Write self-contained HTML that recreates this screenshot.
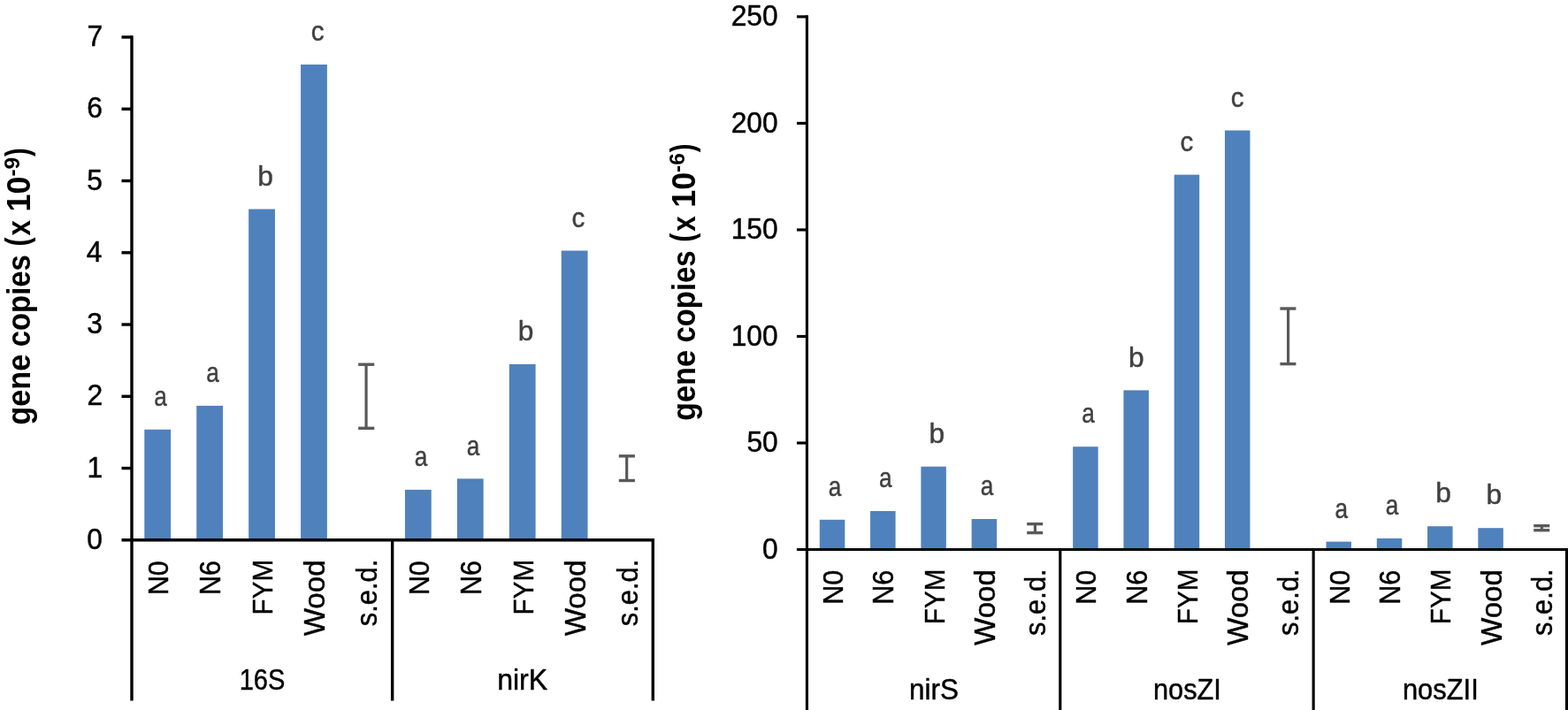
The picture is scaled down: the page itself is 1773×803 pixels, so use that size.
<!DOCTYPE html>
<html lang="en">
<head>
<meta charset="utf-8">
<title>Gene copies charts</title>
<style>
html,body{margin:0;padding:0;background:#fff;}
body{width:1773px;height:803px;overflow:hidden;}
svg{display:block;}
svg text{font-family:"Liberation Sans",sans-serif;white-space:pre;stroke-linejoin:round;}
svg text.r{stroke:#000;stroke-width:0.45px;}
svg text.d{stroke:#404040;stroke-width:0.45px;}
</style>
</head>
<body>
<svg width="1773" height="803" viewBox="0 0 1773 803">
<rect x="0" y="0" width="1773" height="803" fill="#ffffff"/>
<rect x="163.28" y="485.8" width="29.8" height="125" fill="#4f81bd"/>
<rect x="222.21" y="458.9" width="29.8" height="151.9" fill="#4f81bd"/>
<rect x="281.14" y="236.5" width="29.8" height="374.3" fill="#4f81bd"/>
<rect x="340.07" y="73" width="29.8" height="537.8" fill="#4f81bd"/>
<rect x="457.93" y="553.9" width="29.8" height="56.9" fill="#4f81bd"/>
<rect x="516.86" y="541.4" width="29.8" height="69.4" fill="#4f81bd"/>
<rect x="575.79" y="411.9" width="29.8" height="198.9" fill="#4f81bd"/>
<rect x="634.72" y="283.5" width="29.8" height="327.3" fill="#4f81bd"/>
<line x1="414.05" y1="412.2" x2="414.05" y2="484.3" stroke="#595959" stroke-width="3.2"/>
<line x1="405.15" y1="412.2" x2="423.25" y2="412.2" stroke="#595959" stroke-width="3.4"/>
<line x1="405.15" y1="484.3" x2="423.25" y2="484.3" stroke="#595959" stroke-width="3.4"/>
<line x1="708.7" y1="515.8" x2="708.7" y2="543.5" stroke="#595959" stroke-width="3.2"/>
<line x1="699.8" y1="515.8" x2="717.9" y2="515.8" stroke="#595959" stroke-width="3.4"/>
<line x1="699.8" y1="543.5" x2="717.9" y2="543.5" stroke="#595959" stroke-width="3.4"/>
<line x1="149" y1="40.3" x2="149" y2="792.5" stroke="#000000" stroke-width="3.4"/>
<line x1="137.5" y1="610.8" x2="740" y2="610.8" stroke="#000000" stroke-width="3.4"/>
<line x1="137.5" y1="529.54" x2="149" y2="529.54" stroke="#000000" stroke-width="3.4"/>
<line x1="137.5" y1="448.29" x2="149" y2="448.29" stroke="#000000" stroke-width="3.4"/>
<line x1="137.5" y1="367.03" x2="149" y2="367.03" stroke="#000000" stroke-width="3.4"/>
<line x1="137.5" y1="285.77" x2="149" y2="285.77" stroke="#000000" stroke-width="3.4"/>
<line x1="137.5" y1="204.51" x2="149" y2="204.51" stroke="#000000" stroke-width="3.4"/>
<line x1="137.5" y1="123.26" x2="149" y2="123.26" stroke="#000000" stroke-width="3.4"/>
<line x1="137.5" y1="42" x2="149" y2="42" stroke="#000000" stroke-width="3.4"/>
<line x1="443.65" y1="610.8" x2="443.65" y2="792.5" stroke="#000000" stroke-width="3.4"/>
<line x1="738.3" y1="610.8" x2="738.3" y2="792.5" stroke="#000000" stroke-width="3.4"/>
<text class="r" transform="translate(98.14 620.9) scale(0.9850 1)" font-size="32.3" fill="#000">0</text>
<text class="r" transform="translate(98.45 539.64) scale(0.9850 1)" font-size="32.3" fill="#000">1</text>
<text class="r" transform="translate(98.53 458.39) scale(0.9850 1)" font-size="32.3" fill="#000">2</text>
<text class="r" transform="translate(98.29 377.13) scale(0.9850 1)" font-size="32.3" fill="#000">3</text>
<text class="r" transform="translate(97.82 295.87) scale(0.9850 1)" font-size="32.3" fill="#000">4</text>
<text class="r" transform="translate(98.22 214.61) scale(0.9850 1)" font-size="32.3" fill="#000">5</text>
<text class="r" transform="translate(98.29 133.36) scale(0.9850 1)" font-size="32.3" fill="#000">6</text>
<text class="r" transform="translate(98.53 52.1) scale(0.9850 1)" font-size="32.3" fill="#000">7</text>
<text class="r" transform="translate(190.37 673.11) rotate(-90) scale(0.9415 1)" font-size="32.3" fill="#000">N0</text>
<text class="r" transform="translate(249.29 673.12) rotate(-90) scale(0.9456 1)" font-size="32.3" fill="#000">N6</text>
<text class="r" transform="translate(308.22 695.44) rotate(-90) scale(0.9169 1)" font-size="32.3" fill="#000">FYM</text>
<text class="r" transform="translate(367.15 719.37) rotate(-90) scale(1.0275 1)" font-size="32.3" fill="#000">Wood</text>
<text class="r" transform="translate(426.08 708.25) rotate(-90) scale(0.9577 1)" font-size="32.3" fill="#000">s.e.d.</text>
<text class="r" transform="translate(485.01 673.11) rotate(-90) scale(0.9415 1)" font-size="32.3" fill="#000">N0</text>
<text class="r" transform="translate(543.95 673.12) rotate(-90) scale(0.9456 1)" font-size="32.3" fill="#000">N6</text>
<text class="r" transform="translate(602.88 695.44) rotate(-90) scale(0.9169 1)" font-size="32.3" fill="#000">FYM</text>
<text class="r" transform="translate(661.8 719.37) rotate(-90) scale(1.0275 1)" font-size="32.3" fill="#000">Wood</text>
<text class="r" transform="translate(720.74 708.25) rotate(-90) scale(0.9577 1)" font-size="32.3" fill="#000">s.e.d.</text>
<text class="r" transform="translate(270.72 780.2) scale(0.8990 1)" font-size="32.3" fill="#000">16S</text>
<text class="r" transform="translate(562.13 780.2) scale(0.9944 1)" font-size="32.3" fill="#000">nirK</text>
<text class="d" transform="translate(174.2 459) scale(0.8456 1)" font-size="31" fill="#404040">a</text>
<text class="d" transform="translate(233.13 432.1) scale(0.8456 1)" font-size="31" fill="#404040">a</text>
<text class="d" transform="translate(291.21 209.7) scale(0.9931 1)" font-size="32" fill="#404040">b</text>
<text class="d" transform="translate(351.75 46.1) scale(0.9527 1)" font-size="31" fill="#404040">c</text>
<text class="d" transform="translate(468.85 527.1) scale(0.8456 1)" font-size="31" fill="#404040">a</text>
<text class="d" transform="translate(527.78 514.6) scale(0.8456 1)" font-size="31" fill="#404040">a</text>
<text class="d" transform="translate(585.86 385.1) scale(0.9931 1)" font-size="32" fill="#404040">b</text>
<text class="d" transform="translate(646.4 256.6) scale(0.9527 1)" font-size="31" fill="#404040">c</text>
<rect x="926.82" y="587.8" width="28.5" height="33.7" fill="#4f81bd"/>
<rect x="984.09" y="578" width="28.5" height="43.5" fill="#4f81bd"/>
<rect x="1041.36" y="527.7" width="28.5" height="93.8" fill="#4f81bd"/>
<rect x="1098.63" y="587" width="28.5" height="34.5" fill="#4f81bd"/>
<rect x="1213.17" y="505.2" width="28.5" height="116.3" fill="#4f81bd"/>
<rect x="1270.44" y="441.4" width="28.5" height="180.1" fill="#4f81bd"/>
<rect x="1327.71" y="197.6" width="28.5" height="423.9" fill="#4f81bd"/>
<rect x="1384.98" y="147.5" width="28.5" height="474" fill="#4f81bd"/>
<rect x="1499.52" y="612.6" width="28.5" height="8.9" fill="#4f81bd"/>
<rect x="1556.79" y="608.9" width="28.5" height="12.6" fill="#4f81bd"/>
<rect x="1614.06" y="595.2" width="28.5" height="26.3" fill="#4f81bd"/>
<rect x="1671.33" y="597.2" width="28.5" height="24.3" fill="#4f81bd"/>
<line x1="1170.4" y1="592.6" x2="1170.4" y2="602.6" stroke="#595959" stroke-width="3.2"/>
<line x1="1161.2" y1="592.6" x2="1179.2" y2="592.6" stroke="#595959" stroke-width="3.4"/>
<line x1="1161.2" y1="602.6" x2="1179.2" y2="602.6" stroke="#595959" stroke-width="3.4"/>
<line x1="1456.6" y1="349" x2="1456.6" y2="411.6" stroke="#595959" stroke-width="3.2"/>
<line x1="1447.4" y1="349" x2="1465.4" y2="349" stroke="#595959" stroke-width="3.4"/>
<line x1="1447.4" y1="411.6" x2="1465.4" y2="411.6" stroke="#595959" stroke-width="3.4"/>
<line x1="1743.4" y1="594.7" x2="1743.4" y2="599.7" stroke="#595959" stroke-width="3.2"/>
<line x1="1734.2" y1="594.7" x2="1752.2" y2="594.7" stroke="#595959" stroke-width="3.4"/>
<line x1="1734.2" y1="599.7" x2="1752.2" y2="599.7" stroke="#595959" stroke-width="3.4"/>
<line x1="912.45" y1="17.32" x2="912.45" y2="805" stroke="#000000" stroke-width="3.15"/>
<line x1="900.95" y1="621.5" x2="1773.08" y2="621.5" stroke="#000000" stroke-width="3.15"/>
<line x1="900.95" y1="500.98" x2="912.45" y2="500.98" stroke="#000000" stroke-width="3.15"/>
<line x1="900.95" y1="380.46" x2="912.45" y2="380.46" stroke="#000000" stroke-width="3.15"/>
<line x1="900.95" y1="259.94" x2="912.45" y2="259.94" stroke="#000000" stroke-width="3.15"/>
<line x1="900.95" y1="139.42" x2="912.45" y2="139.42" stroke="#000000" stroke-width="3.15"/>
<line x1="900.95" y1="18.9" x2="912.45" y2="18.9" stroke="#000000" stroke-width="3.15"/>
<line x1="1198.8" y1="621.5" x2="1198.8" y2="805" stroke="#000000" stroke-width="3.15"/>
<line x1="1485.15" y1="621.5" x2="1485.15" y2="805" stroke="#000000" stroke-width="3.15"/>
<line x1="1771.5" y1="621.5" x2="1771.5" y2="805" stroke="#000000" stroke-width="3.15"/>
<text class="r" transform="translate(862.04 631.7) scale(0.9850 1)" font-size="32.3" fill="#000">0</text>
<text class="r" transform="translate(844.38 511.08) scale(0.9850 1)" font-size="32.3" fill="#000">50</text>
<text class="r" transform="translate(826.64 390.86) scale(0.9850 1)" font-size="32.3" fill="#000">100</text>
<text class="r" transform="translate(826.64 269.94) scale(0.9850 1)" font-size="32.3" fill="#000">150</text>
<text class="r" transform="translate(826.64 149.92) scale(0.9850 1)" font-size="32.3" fill="#000">200</text>
<text class="r" transform="translate(826.64 28.9) scale(0.9850 1)" font-size="32.3" fill="#000">250</text>
<text class="r" transform="translate(952.99 683.81) rotate(-90) scale(0.9415 1)" font-size="32.3" fill="#000">N0</text>
<text class="r" transform="translate(1010.25 683.82) rotate(-90) scale(0.9456 1)" font-size="32.3" fill="#000">N6</text>
<text class="r" transform="translate(1067.53 706.14) rotate(-90) scale(0.9169 1)" font-size="32.3" fill="#000">FYM</text>
<text class="r" transform="translate(1124.8 730.07) rotate(-90) scale(1.0275 1)" font-size="32.3" fill="#000">Wood</text>
<text class="r" transform="translate(1182.07 718.95) rotate(-90) scale(0.9577 1)" font-size="32.3" fill="#000">s.e.d.</text>
<text class="r" transform="translate(1239.34 683.81) rotate(-90) scale(0.9415 1)" font-size="32.3" fill="#000">N0</text>
<text class="r" transform="translate(1296.61 683.82) rotate(-90) scale(0.9456 1)" font-size="32.3" fill="#000">N6</text>
<text class="r" transform="translate(1353.88 706.14) rotate(-90) scale(0.9169 1)" font-size="32.3" fill="#000">FYM</text>
<text class="r" transform="translate(1411.15 730.07) rotate(-90) scale(1.0275 1)" font-size="32.3" fill="#000">Wood</text>
<text class="r" transform="translate(1468.42 718.95) rotate(-90) scale(0.9577 1)" font-size="32.3" fill="#000">s.e.d.</text>
<text class="r" transform="translate(1525.69 683.81) rotate(-90) scale(0.9415 1)" font-size="32.3" fill="#000">N0</text>
<text class="r" transform="translate(1582.96 683.82) rotate(-90) scale(0.9456 1)" font-size="32.3" fill="#000">N6</text>
<text class="r" transform="translate(1640.23 706.14) rotate(-90) scale(0.9169 1)" font-size="32.3" fill="#000">FYM</text>
<text class="r" transform="translate(1697.5 730.07) rotate(-90) scale(1.0275 1)" font-size="32.3" fill="#000">Wood</text>
<text class="r" transform="translate(1754.77 718.95) rotate(-90) scale(0.9577 1)" font-size="32.3" fill="#000">s.e.d.</text>
<text class="r" transform="translate(1028.07 790.9) scale(0.9747 1)" font-size="32.3" fill="#000">nirS</text>
<text class="r" transform="translate(1303.92 790.9) scale(0.9526 1)" font-size="32.3" fill="#000">nosZI</text>
<text class="r" transform="translate(1585.91 790.9) scale(0.9569 1)" font-size="32.3" fill="#000">nosZII</text>
<text class="d" transform="translate(936.82 561) scale(0.8456 1)" font-size="31" fill="#404040">a</text>
<text class="d" transform="translate(994.09 551.2) scale(0.8456 1)" font-size="31" fill="#404040">a</text>
<text class="d" transform="translate(1050.51 500.9) scale(0.9931 1)" font-size="32" fill="#404040">b</text>
<text class="d" transform="translate(1108.63 560.2) scale(0.8456 1)" font-size="31" fill="#404040">a</text>
<text class="d" transform="translate(1223.17 478.4) scale(0.8456 1)" font-size="31" fill="#404040">a</text>
<text class="d" transform="translate(1276.09 414.6) scale(0.9931 1)" font-size="32" fill="#404040">b</text>
<text class="d" transform="translate(1334.57 170.7) scale(0.9527 1)" font-size="31" fill="#404040">c</text>
<text class="d" transform="translate(1391.84 120.6) scale(0.9527 1)" font-size="31" fill="#404040">c</text>
<text class="d" transform="translate(1509.52 585.8) scale(0.8456 1)" font-size="31" fill="#404040">a</text>
<text class="d" transform="translate(1566.79 582.1) scale(0.8456 1)" font-size="31" fill="#404040">a</text>
<text class="d" transform="translate(1623.21 568.4) scale(0.9931 1)" font-size="32" fill="#404040">b</text>
<text class="d" transform="translate(1680.48 570.4) scale(0.9931 1)" font-size="32" fill="#404040">b</text>
<text transform="translate(33.55 479.4) rotate(-90)" font-weight="bold" fill="#000"><tspan x="-1.37" dy="0" font-size="36.4" textLength="80.14" lengthAdjust="spacingAndGlyphs">gene</tspan> <tspan x="87.08" dy="0" font-size="36.4" textLength="104.25" lengthAdjust="spacingAndGlyphs">copies</tspan> <tspan x="200.88" dy="-1.7" font-size="36.4" textLength="10.14" lengthAdjust="spacingAndGlyphs">(</tspan><tspan x="212.97" dy="1.7" font-size="36.4" textLength="17.41" lengthAdjust="spacingAndGlyphs">x</tspan> <tspan x="239.96" dy="0" font-size="36.4" textLength="39.86" lengthAdjust="spacingAndGlyphs">10</tspan><tspan x="279.82" dy="-11.75" font-size="24.39" textLength="21.78" lengthAdjust="spacingAndGlyphs">-9</tspan><tspan x="302.53" dy="10.05" font-size="36.4" textLength="9.63" lengthAdjust="spacingAndGlyphs">)</tspan></text>
<text transform="translate(785.65 474.7) rotate(-90)" font-weight="bold" fill="#000"><tspan x="-1.37" dy="0" font-size="36.4" textLength="80.14" lengthAdjust="spacingAndGlyphs">gene</tspan> <tspan x="87.08" dy="0" font-size="36.4" textLength="104.25" lengthAdjust="spacingAndGlyphs">copies</tspan> <tspan x="200.88" dy="-1.7" font-size="36.4" textLength="10.14" lengthAdjust="spacingAndGlyphs">(</tspan><tspan x="212.97" dy="1.7" font-size="36.4" textLength="17.41" lengthAdjust="spacingAndGlyphs">x</tspan> <tspan x="239.96" dy="0" font-size="36.4" textLength="39.86" lengthAdjust="spacingAndGlyphs">10</tspan><tspan x="279.82" dy="-11.75" font-size="24.39" textLength="21.78" lengthAdjust="spacingAndGlyphs">-6</tspan><tspan x="302.53" dy="10.05" font-size="36.4" textLength="9.63" lengthAdjust="spacingAndGlyphs">)</tspan></text>
</svg>
</body>
</html>
